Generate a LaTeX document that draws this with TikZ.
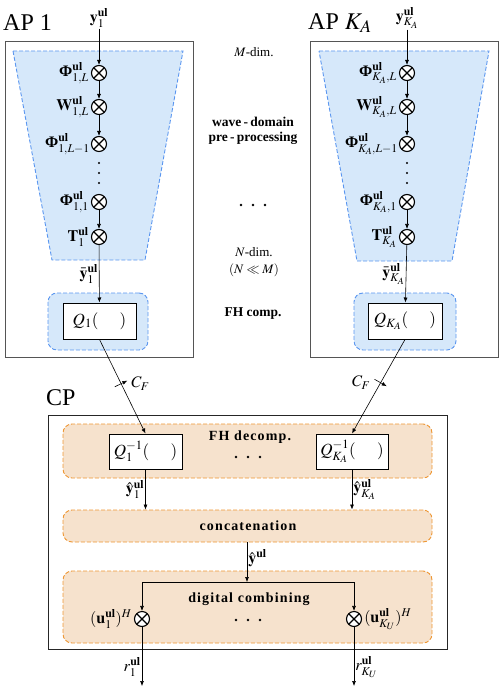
\documentclass[tikz,border=0pt]{standalone}
\usepackage{mathptmx}
\usepackage[no-math]{fontspec}
\setmainfont{Liberation Serif}
\usetikzlibrary{positioning,arrows.meta,decorations.markings}
\definecolor{apBlue}{RGB}{90,150,240}
\definecolor{apFill}{RGB}{214,232,250}
\definecolor{cpOrange}{RGB}{238,150,50}
\definecolor{cpFill}{RGB}{246,226,205}
\definecolor{boxGray}{RGB}{85,85,85}
\newcommand{\bPhi}{\mbox{\bfseries Φ}}
\newcommand{\sul}{\mathbf{ul}}
\tikzset{
    base/.style={font=\fontsize{13}{15}\selectfont, align=center, inner sep=1pt},
    apbox/.style={draw=boxGray, line width=1pt},
    cpbox/.style={draw=black!85, line width=1pt},
    prep/.style={draw=apBlue, fill=apFill, dash pattern=on 4pt off 2pt, line width=0.9pt},
    fhA/.style={prep, rounded corners=9pt},
    fhC/.style={draw=cpOrange, fill=cpFill, dash pattern=on 4pt off 2pt, line width=0.9pt, rounded corners=9pt},
    qbox/.style={base, font=\fontsize{17}{19}\selectfont, draw, fill=white, line width=1pt, minimum height=36pt},
    mult/.style={circle, draw, line width=1.1pt, minimum size=15pt, inner sep=0pt, fill=white,
                 path picture={\draw[line width=1.1pt]
                   (path picture bounding box.north west) -- (path picture bounding box.south east)
                   (path picture bounding box.north east) -- (path picture bounding box.south west);}},
    flow/.style={->, >={Latex[length=5pt,width=4pt]}, line width=0.6pt},
    note/.style={base},
    label/.style={base, font=\fontsize{16}{18}\selectfont},
    title/.style={font=\fontsize{24}{28}\selectfont, inner sep=0pt, anchor=west},
    tag/.style={base, font=\fontsize{13.5}{15}\selectfont\bfseries},
    cptag/.style={base, font=\fontsize{14}{16}\selectfont\bfseries\addfontfeatures{LetterSpace=8}},
    cut/.style={postaction={decorate, decoration={markings,
                mark=at position #1 with {\draw[line width=0.6pt] (0,-7pt) -- (0,7pt);}}}}
}

\begin{document}
\begin{tikzpicture}[x=1pt, y=-1pt]
  \useasboundingbox (0,0) rectangle (499,687);

  % AP boxes and pre-processing areas
  \node[apbox, minimum width=188pt, minimum height=315pt] (ap1) at (99,199.5) {};
  \node[apbox, minimum width=188pt, minimum height=315pt] (apK) at (404,199.5) {};
  \draw[prep] (13,51) -- (183,51) -- (145,260) -- (52,260) -- cycle;
  \draw[prep] (319,51) -- (489,51) -- (452,261) -- (357,261) -- cycle;
  \node[title] at (3,23) {AP 1};
  \node[title] at (308,23) {AP $K_A$};

  % multipliers
  \foreach \y/\n in {73/1,107/2,144/3,202/4,237/5} {
    \node[mult] (a\n) at (99,\y) {};
    \node[mult] (k\n) at (407,\y) {};
  }
  \foreach \y in {163,173,183} {
    \fill (99,\y) circle (1.2pt);
    \fill (407,\y) circle (1.2pt);
  }
  \node[label, left=1pt of a1] {$\bPhi^{\sul}_{1,L}$};
  \node[label, left=1pt of a2] {$\mathbf{W}^{\sul}_{1,L}$};
  \node[label, left=0pt of a3] {$\bPhi^{\sul}_{1,L-1}$};
  \node[label, left=1pt of a4] {$\bPhi^{\sul}_{1,1}$};
  \node[label, left=1pt of a5] {$\mathbf{T}^{\sul}_{1}$};
  \node[label, left=1pt of k1] {$\bPhi^{\sul}_{K_A,L}$};
  \node[label, left=1pt of k2] {$\mathbf{W}^{\sul}_{K_A,L}$};
  \node[label, left=0pt of k3] {$\bPhi^{\sul}_{K_A,L-1}$};
  \node[label, left=1pt of k4] {$\bPhi^{\sul}_{K_A,1}$};
  \node[label, left=1pt of k5] {$\mathbf{T}^{\sul}_{K_A}$};

  \node[label] (in1) at (99,18) {$\mathbf{y}^{\sul}_{1}$};
  \node[label] (inK) at (407,18) {$\mathbf{y}^{\sul}_{K_A}$};
  \draw[flow] (in1) -- (a1);
  \draw[flow] (inK) -- (k1);
  \draw[flow] (a1) -- (a2);
  \draw[flow] (a2) -- (a3);
  \draw[flow] (a4) -- (a5);
  \draw[flow] (k1) -- (k2);
  \draw[flow] (k2) -- (k3);
  \draw[flow] (k4) -- (k5);

  % FH compression
  \node[fhA, minimum width=100pt, minimum height=57pt] (fa1) at (98,321.5) {};
  \node[fhA, minimum width=102pt, minimum height=57pt] (faK) at (405,321.5) {};
  \node[qbox, minimum width=73pt] (q1) at (99.5,321) {$Q_1(\quad\ )$};
  \node[qbox, minimum width=74pt] (qK) at (405,321) {$Q_{K_A}(\quad\ )$};
  \draw[flow] (a5) -- node[label, midway, left] {$\bar{\mathbf{y}}^{\sul}_{1}$} (q1);
  \draw[flow] (k5) -- node[label, midway, left] {$\bar{\mathbf{y}}^{\sul}_{K_A}$} (qK);

  % middle notes
  \node[note] (mdim) at (254,52) {$M$-dim.};
  \node[tag] (wave) at (253,122) {wave\,-\,domain};
  \node[tag] (pre) at (253,138) {pre\,-\,processing};
  \foreach \x in {241,253,265} \fill (\x,205) circle (1.3pt);
  \node[note] (ndim) at (254,252) {$N$-dim.};
  \node[note] (nm) at (254,270) {$(N \ll M)$};
  \node[tag] (fhc) at (253,314) {FH comp.};

  % CP
  \node[cpbox, minimum width=399pt, minimum height=234pt] (cp) at (247.5,532) {};
  \node[title] at (46,398) {CP};
  \node[fhC, minimum width=369pt, minimum height=54pt] (fhd) at (247.5,451) {};
  \node[fhC, minimum width=369pt, minimum height=32pt] (cat) at (247.5,526) {};
  \node[fhC, minimum width=369pt, minimum height=72pt] (dc) at (247.5,607) {};
  \node[cptag] at (250,437) {FH decomp.};
  \node[cptag] at (248,526) {concatenation};
  \node[cptag] at (249,599) {digital combining};
  \foreach \x in {236,248,260} {
    \fill (\x,457) circle (1.3pt);
    \fill (\x,620) circle (1.3pt);
  }
  \node[qbox, minimum width=73pt, minimum height=35pt] (qi1) at (145.5,451.5) {$Q_1^{-1}(\quad\ )$};
  \node[qbox, minimum width=72pt, minimum height=35pt] (qiK) at (352,451.5) {$Q_{K_A}^{-1}(\quad\ )$};

  % fronthaul links
  \draw[flow, cut=0.47] (q1.south) -- node[label, pos=0.47, right=9pt] {$C_F$} (qi1.north);
  \draw[flow, cut=0.46] (qK.south) -- node[label, pos=0.46, left=9pt] {$C_F$} (qiK.north);

  \draw[flow] (qi1) -- node[label, midway, left] {$\hat{\mathbf{y}}^{\sul}_{1}$} (qi1 |- cat.north);
  \draw[flow] (qiK) -- node[label, midway, right] {$\hat{\mathbf{y}}^{\sul}_{K_A}$} (qiK |- cat.north);

  % digital combining
  \node[mult] (c1) at (142,619) {};
  \node[mult] (cK) at (354,619) {};
  \coordinate (br) at (247,582);
  \draw[flow] (cat.south -| br) -- node[label, pos=0.4, right] {$\hat{\mathbf{y}}^{\sul}$} (br);
  \draw[flow] (br) -| (c1);
  \draw[flow] (br) -| (cK);
  \node[label, left=1pt of c1] {$(\mathbf{u}^{\sul}_{1})^H$};
  \node[label, right=1pt of cK] {$(\mathbf{u}^{\sul}_{K_U})^H$};
  \coordinate (o1) at (142,686);
  \coordinate (oK) at (354,686);
  \draw[flow] (c1) -- node[label, pos=0.68, left] {$r^{\sul}_{1}$} (o1);
  \draw[flow] (cK) -- node[label, pos=0.68, right] {$r^{\sul}_{K_U}$} (oK);
\end{tikzpicture}
\end{document}
